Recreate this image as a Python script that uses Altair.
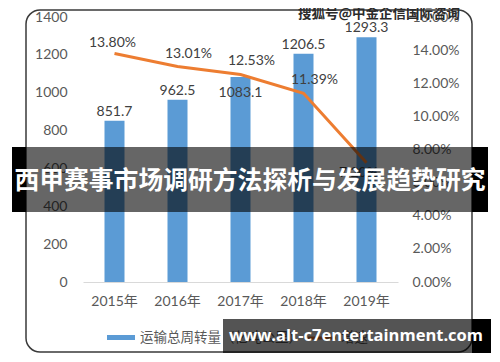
import altair as alt
import pandas as pd

years = ["2015年", "2016年", "2017年", "2018年", "2019年"]
volume = [851.7, 962.5, 1083.1, 1206.5, 1293.3]
growth = [0.1380, 0.1301, 0.1253, 0.1139, 0.0720]
growth_labels = ["13.80%", "13.01%", "12.53%", "11.39%", "7.20%"]

banner_title = "西甲赛事市场调研方法探析与发展趋势研究"
top_mark = "搜狐号@中金企信国际咨询"
bottom_mark = "www.alt-c7entertainment.com"
legend_bar = "运输总周转量（亿吨公里）"
legend_line = "增速"

df = pd.DataFrame({"year": years, "volume": volume, "growth": growth, "glabel": growth_labels})
one = alt.Data(values=[{"k": 1}])

FONT = "Lato, Noto Sans CJK SC"
CJK = "Noto Sans CJK SC"
GREY = "#595959"

x_enc = alt.X("year:N", sort=years, title=None,
              axis=alt.Axis(labelAngle=0, ticks=False, domainColor="#d9d9d9", domainWidth=1,
                            labelPadding=12, labelFontSize=14, labelColor=GREY, labelFont=FONT))

left_axis = alt.Axis(orient="left", values=[0, 200, 400, 600, 800, 1000, 1200, 1400],
                     format="d", labelOverlap=False,
                     grid=False, ticks=False, domain=False, labelPadding=16,
                     labelFontSize=14, labelColor=GREY, labelFont=FONT)
right_axis = alt.Axis(orient="right", values=[0, 0.02, 0.04, 0.06, 0.08, 0.10, 0.12, 0.14, 0.16],
                      format=".2%", labelOverlap=False,
                      grid=False, ticks=False, domain=False, labelPadding=14,
                      labelFontSize=14, labelColor=GREY, labelFont=FONT)
y_left = alt.Y("volume:Q", title=None, scale=alt.Scale(domain=[0, 1400], nice=False), axis=left_axis)
y_right = alt.Y("growth:Q", title=None, scale=alt.Scale(domain=[0, 0.16], nice=False), axis=right_axis)

base = alt.Chart(df)

bars = base.mark_bar(size=20, color="#5b9bd5").encode(x=x_enc, y=y_left)
bar_lab = base.mark_text(dy=-9, fontSize=14, color="#404040", font=FONT).encode(
    x=x_enc, y=y_left, text=alt.Text("volume:Q", format=".1f")
).transform_filter(alt.datum.year != "2017年")
bar_lab17 = base.mark_text(dy=16, fontSize=14, color="#404040", font=FONT).encode(
    x=x_enc, y=y_left, text=alt.Text("volume:Q", format=".1f")
).transform_filter(alt.datum.year == "2017年")
left_group = alt.layer(bars, bar_lab, bar_lab17)

line = base.mark_line(color="#ed7d31", strokeWidth=3).encode(x=x_enc, y=y_right)
line_lab0 = base.mark_text(dy=-10, dx=-2, fontSize=14, color="#404040", font=FONT).encode(
    x=x_enc, y=y_right, text="glabel:N"
).transform_filter(alt.datum.year == "2015年")
line_lab = base.mark_text(dy=-13, dx=11, fontSize=14, color="#404040", font=FONT).encode(
    x=x_enc, y=y_right, text="glabel:N"
).transform_filter((alt.datum.year != "2015年") & (alt.datum.year != "2019年"))
line_lab19 = base.mark_text(dy=10, dx=-8, fontSize=14, color="#404040", font=FONT).encode(
    x=x_enc, y=y_right, text="glabel:N"
).transform_filter(alt.datum.year == "2019年")
right_group = alt.layer(line, line_lab0, line_lab, line_lab19)

deco = alt.Chart(one)

box = deco.mark_rect(fill="transparent", stroke="#3a3a3a", strokeWidth=1.5, cornerRadius=14).encode(
    x=alt.value(-57), x2=alt.value(389), y=alt.value(-7), y2=alt.value(335))

leg_rect = deco.mark_rect(color="#5b9bd5").encode(
    x=alt.value(24), x2=alt.value(52), y=alt.value(318), y2=alt.value(323))
leg_text = deco.mark_text(text=legend_bar, align="left", baseline="middle", fontSize=13.5,
                          color=GREY, font=CJK).encode(x=alt.value(57), y=alt.value(321))
leg_line = deco.mark_rule(color="#ed7d31", strokeWidth=3).encode(
    x=alt.value(225), x2=alt.value(253), y=alt.value(321))
leg_text2 = deco.mark_text(text=legend_line, align="left", baseline="middle", fontSize=13.5,
                           color=GREY, font=CJK).encode(x=alt.value(258), y=alt.value(321))

band_edge_l = deco.mark_rect(color="black").encode(
    x=alt.value(-71), x2=alt.value(-57), y=alt.value(130), y2=alt.value(195))
band_edge_r = deco.mark_rect(color="black").encode(
    x=alt.value(389), x2=alt.value(405), y=alt.value(130), y2=alt.value(195))
band = deco.mark_rect(color="black", opacity=0.6).encode(
    x=alt.value(-57), x2=alt.value(389), y=alt.value(130), y2=alt.value(195))
band_text = deco.mark_text(text=banner_title, fontSize=24.8, fontWeight="bold", color="white",
                           font=CJK, baseline="middle").encode(x=alt.value(167), y=alt.value(165))

wm_edge = deco.mark_rect(color="black").encode(
    x=alt.value(389), x2=alt.value(408), y=alt.value(302), y2=alt.value(336))
wm = deco.mark_rect(color="black", opacity=0.67).encode(
    x=alt.value(140), x2=alt.value(389), y=alt.value(302), y2=alt.value(336))
wm_text = deco.mark_text(text=bottom_mark, fontSize=16.5, fontWeight="bold", color="white",
                         font="Open Sans", baseline="middle").encode(x=alt.value(273), y=alt.value(319))

top_text = deco.mark_text(text=top_mark, fontSize=13.5, fontWeight="bold", color="#2b2b2b",
                          font=CJK, align="right", baseline="middle").encode(
    x=alt.value(377), y=alt.value(-3))

data_layers = alt.layer(left_group, right_group).resolve_scale(y="independent")

chart = alt.layer(
    box, data_layers, leg_rect, leg_text, leg_line, leg_text2,
    band_edge_l, band_edge_r, band, band_text,
    wm_edge, wm, wm_text, top_text,
).resolve_scale(y="independent").properties(
    width=315, height=265,
    padding={"left": 75, "top": 9, "right": 94, "bottom": 72},
    autosize=alt.AutoSizeParams(type="none"),
    background="white",
).configure_view(stroke=None).configure_axis(labelOverlap=False)

chart.save("out.html", embed_options={"renderer": "svg", "actions": False})
